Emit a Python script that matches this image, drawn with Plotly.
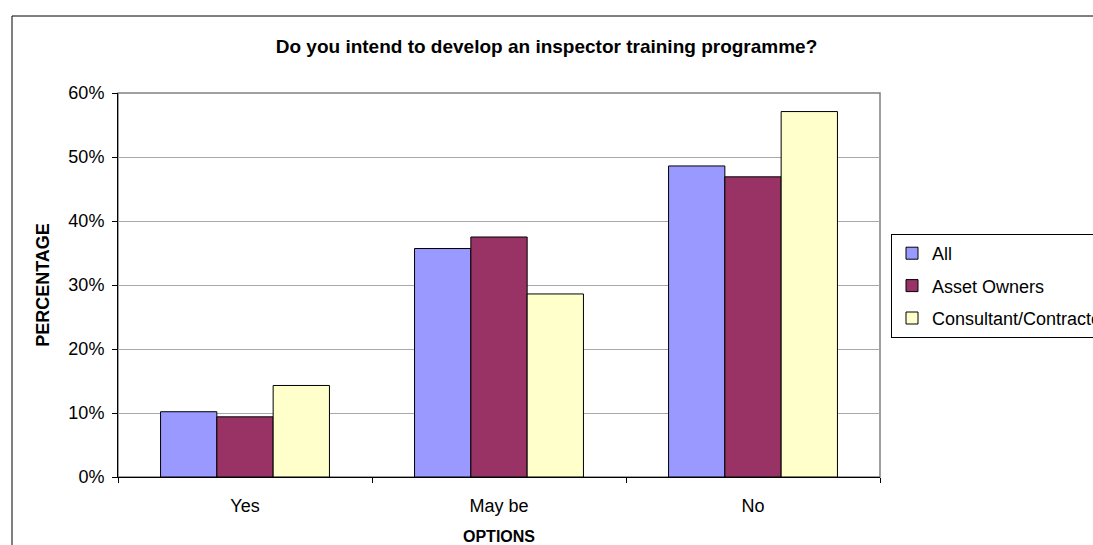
import plotly.graph_objects as go

categories = ["Yes", "May be", "No"]
series_names = ["All", "Asset Owners", "Consultant/Contractor"]
all_vals = [10.2, 35.7, 48.6]
owners_vals = [9.4, 37.5, 46.9]
consultant_vals = [14.3, 28.6, 57.1]
colors = ["#9999FF", "#993366", "#FFFFCC"]

FONT = "Liberation Sans, Arial, sans-serif"

fig = go.Figure()
for name, vals, col in zip(series_names, [all_vals, owners_vals, consultant_vals], colors):
    fig.add_trace(go.Bar(
        x=categories, y=vals, name=name, legendgroup=name,
        marker=dict(color=col, line=dict(color="black", width=1)),
    ))

W, H = 1093, 545
L, R, T, B = 118, 880, 93, 477
pw, ph = R - L, B - T

def px_x(p):
    return (p - L) / pw

def px_y(p):
    return (B - p) / ph

fig.update_layout(
    width=W, height=H,
    margin=dict(l=L, r=W - R, t=T, b=H - B, autoexpand=False, pad=0),
    paper_bgcolor="white", plot_bgcolor="white",
    barmode="group", bargap=0.335, bargroupgap=0,
    font=dict(family=FONT, size=18, color="black"),
    title=dict(
        text="<b>Do you intend to develop an inspector training programme?</b>",
        x=0.5, xref="container", xanchor="center",
        y=1 - 46 / H, yref="container", yanchor="middle",
        font=dict(family=FONT, size=19, color="black"),
    ),
    xaxis=dict(
        showline=True, linecolor="black", linewidth=1,
        ticks="outside", tickson="boundaries", ticklen=5, tickcolor="black",
        ticklabelstandoff=12,
        showgrid=False,
        tickfont=dict(family=FONT, size=18),
        title=dict(text="<b>OPTIONS</b>", font=dict(family=FONT, size=16), standoff=16),
    ),
    yaxis=dict(
        range=[0, 60], tickmode="linear", tick0=0, dtick=10, ticksuffix="%",
        showline=True, linecolor="black", linewidth=1,
        ticks="outside", ticklen=5, tickcolor="black",
        ticklabelstandoff=4,
        showgrid=True, gridcolor="#a8a8a8", gridwidth=1,
        zeroline=False,
        tickfont=dict(family=FONT, size=18),
        title=dict(text="<b>PERCENTAGE</b>", font=dict(family=FONT, size=18), standoff=14),
    ),
    legend=dict(
        x=px_x(891), xanchor="left", y=px_y(234), yanchor="top",
        bordercolor="black", borderwidth=1, bgcolor="white",
        font=dict(family=FONT, size=18),
        itemwidth=30, tracegroupgap=6,
    ),
    shapes=[
        dict(type="rect", xref="paper", yref="paper", x0=0, x1=1, y0=0, y1=1,
             line=dict(color="#808080", width=1.5), layer="below"),
        dict(type="rect", xref="paper", yref="paper",
             x0=px_x(12), x1=px_x(1110), y0=px_y(560), y1=px_y(16),
             line=dict(color="black", width=1), fillcolor="rgba(0,0,0,0)", layer="below"),
    ],
)

fig.write_html("out.html", config={"displayModeBar": False},
               post_script="document.body.style.margin='0';")
